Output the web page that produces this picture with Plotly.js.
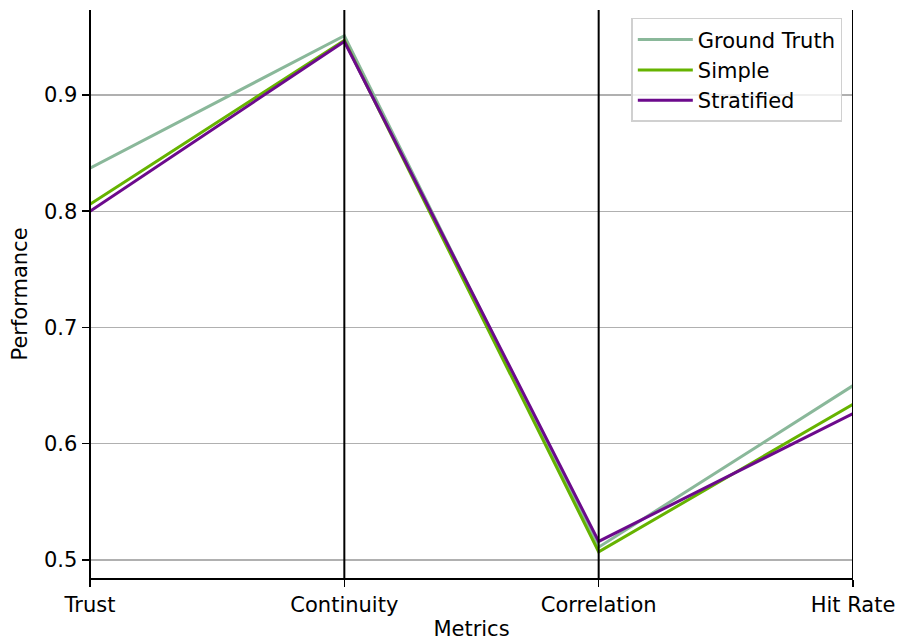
<!DOCTYPE html>
<html>
<head>
<meta charset="utf-8">
<script src="https://cdn.plot.ly/plotly-3.0.1.min.js"></script>
<style>html,body{margin:0;padding:0;background:#fff;}#chart{width:899px;height:641px;}</style>
</head>
<body>
<div id="chart"></div>
<script>
const categories = ["Trust", "Continuity", "Correlation", "Hit Rate"];
const seriesNames = ["Ground Truth", "Simple", "Stratified"];
const groundTruth = [0.837, 0.951, 0.511, 0.650];
const simple = [0.806, 0.947, 0.507, 0.634];
const stratified = [0.800, 0.946, 0.516, 0.626];
const colors = ["#8ab89a", "#66b300", "#6c0a8c"];
const yTicks = [0.5, 0.6, 0.7, 0.8, 0.9];

const values = [groundTruth, simple, stratified];
const font = {family: "DejaVu Sans, sans-serif", size: 21, color: "#000"};

const traces = values.map((v, i) => ({
  x: categories,
  y: v,
  type: "scatter",
  mode: "lines",
  name: seriesNames[i],
  line: {color: colors[i], width: 3}
}));

const shapes = categories.map(c => ({
  type: "line", xref: "x", yref: "paper",
  x0: c, x1: c, y0: 0, y1: 1,
  line: {color: "#000", width: 2},
  layer: "above"
}));

const layout = {
  width: 899, height: 641,
  margin: {l: 90, r: 46, t: 10, b: 63, pad: 0},
  paper_bgcolor: "#fff", plot_bgcolor: "#fff",
  font: font,
  showlegend: true,
  legend: {
    x: 0.986, y: 0.986, xanchor: "right", yanchor: "top",
    bgcolor: "rgba(255,255,255,0.8)", bordercolor: "#d0d0d0", borderwidth: 1.5,
    font: font, itemwidth: 55
  },
  xaxis: {
    type: "category", range: [0, categories.length - 1],
    showgrid: false, zeroline: false,
    showline: true, linecolor: "#000", linewidth: 1.5,
    ticks: "outside", ticklen: 7, tickwidth: 1.5, tickcolor: "#000",
    tickfont: font,
    title: {text: "Metrics", font: font, standoff: 7}
  },
  yaxis: {
    range: [0.4845, 0.9731],
    tickvals: yTicks, ticktext: yTicks.map(v => v.toFixed(1)),
    showgrid: true, gridcolor: "#b0b0b0", gridwidth: 1.2,
    zeroline: false,
    showline: true, linecolor: "#000", linewidth: 1.5,
    ticks: "outside", ticklen: 7, tickwidth: 1.5, tickcolor: "#000",
    tickfont: font,
    title: {text: "Performance", font: font, standoff: 10}
  },
  shapes: shapes
};

Plotly.newPlot("chart", traces, layout, {displayModeBar: false, staticPlot: true});
</script>
</body>
</html>
